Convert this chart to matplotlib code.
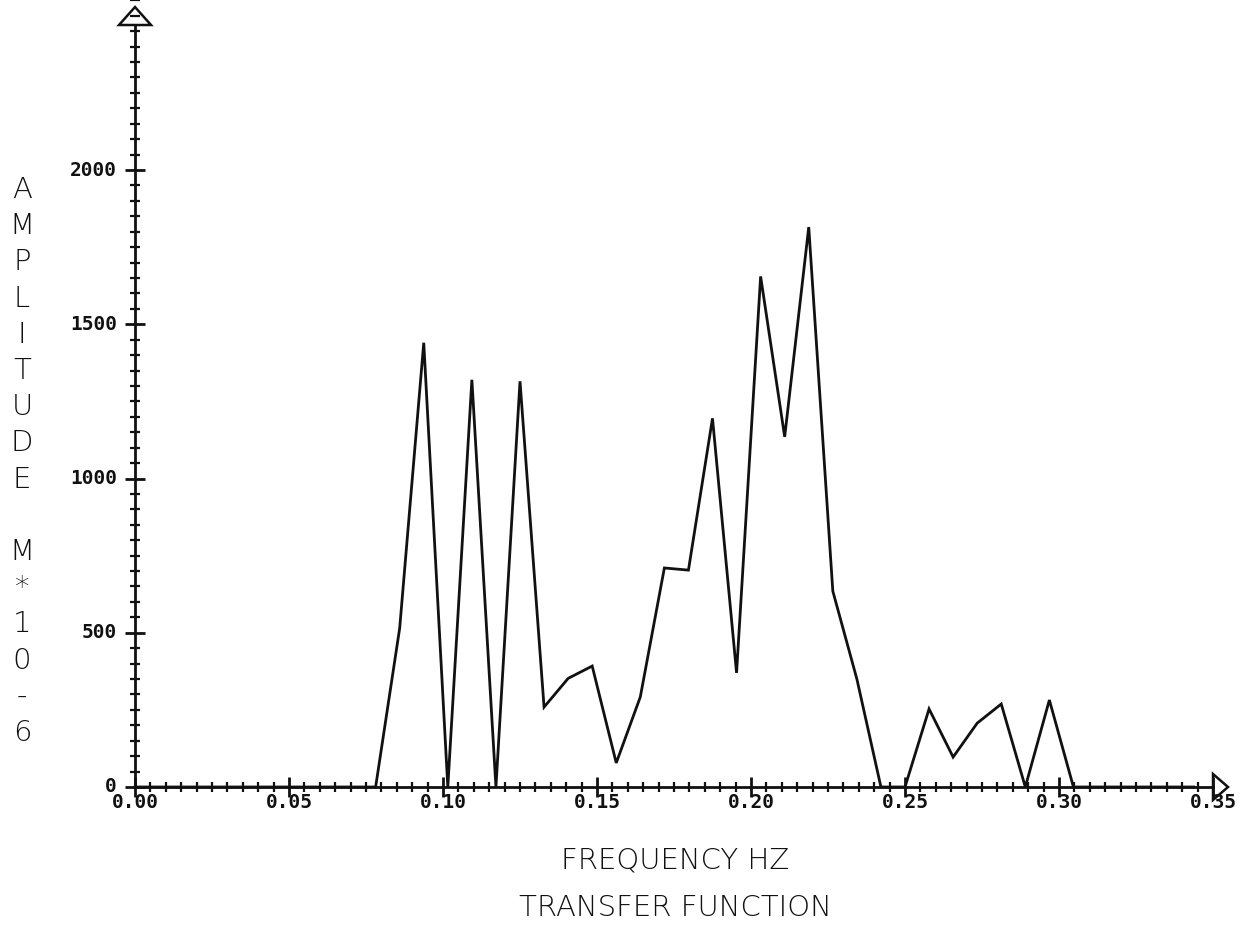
import numpy as np
import matplotlib
matplotlib.use("Agg")
import matplotlib.pyplot as plt
from matplotlib.ticker import MultipleLocator, FixedLocator
from matplotlib.patches import Polygon

# Transfer function amplitude, sampled every 1/128 Hz (bins 0..44)
bin_index = list(range(0, 45))
amplitude = [
    0, 0, 0, 0, 0, 0, 0, 0, 0, 0,          # 0.000 - 0.070 Hz
    0, 515, 1440, 0, 1320, 0, 1315, 259,   # bins 10-17
    352, 392, 78, 292, 710, 703, 1195, 370,  # bins 18-25
    1655, 1135, 1815, 635, 350, 0, 0, 253,   # bins 26-33
    97, 207, 269, 0, 282, 0,                 # bins 34-39
    0, 0, 0, 0, 0,                           # bins 40-44
]
frequency = [k / 128.0 for k in bin_index]

x_ticks = [0.00, 0.05, 0.10, 0.15, 0.20, 0.25, 0.30, 0.35]
x_tick_labels = ["0.00", "0.05", "0.10", "0.15", "0.20", "0.25", "0.30", "0.35"]
y_ticks = [0, 500, 1000, 1500, 2000]
y_tick_labels = ["0", "500", "1000", "1500", "2000"]

y_label = "AMPLITUDE M*10-6"
x_label = "FREQUENCY HZ"
title_text = "TRANSFER FUNCTION"

W, H = 1251, 931
fig = plt.figure(figsize=(W / 100, H / 100), dpi=100)

# axes placed in pixel terms: origin at (135, 787), 0.35 Hz at x=1213
x0_px, y0_px = 135, 787
x1_px = 1213
y_top_val = 2550
px_per_unit = (787 - 170) / 2000.0
y1_px = y0_px - y_top_val * px_per_unit
ax = fig.add_axes([x0_px / W, (H - y0_px) / H, (x1_px - x0_px) / W, (y0_px - y1_px) / H])
ax.set_xlim(0, 0.35)
ax.set_ylim(0, y_top_val)
ax.patch.set_alpha(0)

for side in ["top", "right", "left", "bottom"]:
    ax.spines[side].set_visible(False)

ink = "#111111"
ax.plot(frequency, amplitude, color=ink, lw=2.0, solid_joinstyle="miter", clip_on=False, zorder=3)

# axis lines
ax.plot([0, 0.35], [0, 0], color=ink, lw=2.0, clip_on=False, zorder=2)
ax.plot([0, 0], [0, 2470], color=ink, lw=2.0, clip_on=False, zorder=2)

# open arrowheads at the ends of both axes
dx_px = 0.35 / (x1_px - x0_px)
ux = 1.0 / px_per_unit
yarrow = Polygon([[-16 * dx_px, 2470], [16 * dx_px, 2470], [0, 2470 + 18 * ux]],
                 closed=True, fill=False, edgecolor=ink, lw=1.8, clip_on=False)
xarrow = Polygon([[0.35, -13 * ux], [0.35, 13 * ux], [0.35 + 15 * dx_px, 0]],
                 closed=True, fill=False, edgecolor=ink, lw=1.8, clip_on=False)
ax.add_patch(yarrow)
ax.add_patch(xarrow)

# ticks: crossing marks on the axis lines
ax.xaxis.set_major_locator(FixedLocator(x_ticks))
ax.xaxis.set_minor_locator(MultipleLocator(0.005))
ax.yaxis.set_major_locator(FixedLocator(y_ticks))
ax.yaxis.set_minor_locator(MultipleLocator(50))
ax.set_xticklabels([])
ax.set_yticklabels([])
ax.tick_params(which="major", direction="inout", length=14, width=2.0, color=ink)
ax.tick_params(which="minor", direction="inout", length=7, width=1.6, color=ink)

mono = {"family": "DejaVu Sans Mono", "weight": "bold", "size": 14, "color": ink}
for v, lab in zip(x_ticks, x_tick_labels):
    ax.text(v, -15 * ux, lab, ha="center", va="center", **mono)
for v, lab in zip(y_ticks, y_tick_labels):
    ax.text(-18 * dx_px, v, lab, ha="right", va="center", **mono)

stroke = {"family": "DejaVu Sans", "weight": "light", "size": 21, "color": ink}
fig.text(675 / W, 1 - 860 / H, x_label, ha="center", va="center", **stroke)
fig.text(675 / W, 1 - 908 / H, title_text, ha="center", va="center", **stroke)

# vertical label written one letter under another
top_y, step = 190, 36.2
for i, ch in enumerate(y_label):
    if ch == " ":
        continue
    fig.text(22 / W, 1 - (top_y + i * step) / H, ch, ha="center", va="center", **stroke)

fig.savefig("out.png", dpi=100, facecolor="white")
